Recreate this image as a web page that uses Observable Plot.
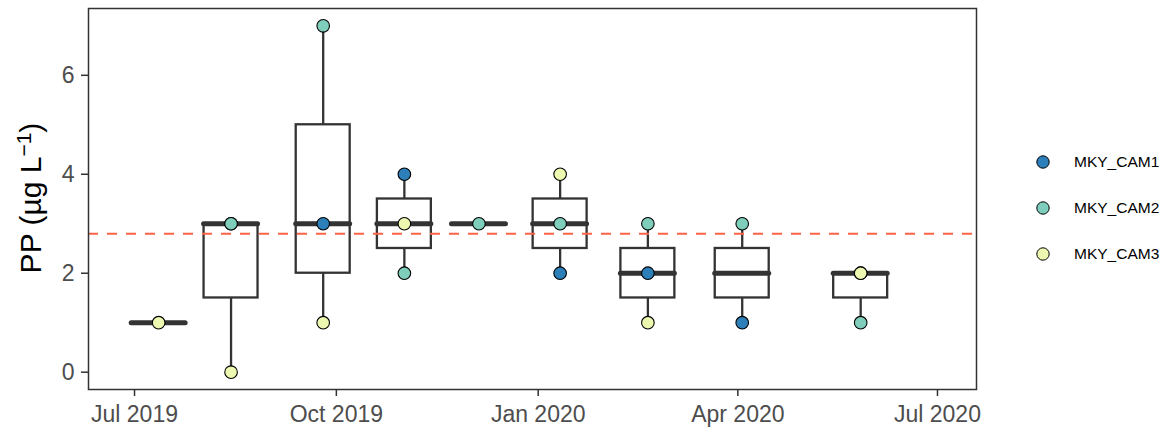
<!DOCTYPE html>
<html>
<head>
<meta charset="utf-8">
<script src="https://cdn.jsdelivr.net/npm/d3@7"></script>
<script src="https://cdn.jsdelivr.net/npm/@observablehq/plot@0.6"></script>
<style>
  body { margin: 0; background: #fff; font-family: "Liberation Sans", Arial, sans-serif; }
  #wrap { position: relative; width: 1175px; height: 430px; overflow: hidden; }
  #ylab {
    position: absolute; left: 31px; top: 198px; width: 320px;
    transform: translate(-50%, -50%) rotate(-90deg);
    text-align: center; font-size: 30px; line-height: 30px; color: #000; white-space: nowrap;
  }
  #ylab sup { font-size: 0.7em; vertical-align: 0.5em; line-height: 0; }
  .lg-row { position: absolute; left: 1036px; height: 20px; display: flex; align-items: center; }
  .lg-row span { margin-left: 24px; font-size: 15.5px; color: #000; }
</style>
</head>
<body>
<div id="wrap"></div>
<script>
// Sites and their fill colours (YlGnBu, 3 classes)
const sites = ["MKY_CAM1", "MKY_CAM2", "MKY_CAM3"];
const siteColors = ["#2C7FB8", "#7FCDBB", "#EDF8B1"];

// Sampling dates
const sampleDates = ["2019-07-12", "2019-08-14", "2019-09-25", "2019-11-01", "2019-12-05",
                     "2020-01-11", "2020-02-20", "2020-04-03", "2020-05-27"];

// PP (µg/L) per site on each sampling date; null = no sample
const cam1 = [null, 3, 3, 4, null, 2, 2, 1, 2];
const cam2 = [null, 3, 7, 2, 3, 3, 3, 3, 1];
const cam3 = [1, 0, 1, 3, null, 4, 1, null, 2];

// Reference level (dashed line)
const threshold = 2.8;

// Axis ticks
const xTicks = ["2019-07-01", "2019-10-01", "2020-01-01", "2020-04-01", "2020-07-01"];
const yTicks = [0, 2, 4, 6];

const DAY = 864e5;
const halfWidth = 12.3 * DAY;

// Long table of observations
const bySite = [cam1, cam2, cam3];
const obs = [];
sites.forEach((s, i) => {
  bySite[i].forEach((v, j) => {
    if (v !== null) obs.push({site: s, date: new Date(sampleDates[j]), value: v});
  });
});

// Box statistics per date (R type-7 quantiles, 1.5 IQR whiskers)
const stats = sampleDates.map((ds) => {
  const date = new Date(ds);
  const v = obs.filter(o => +o.date === +date).map(o => o.value).sort(d3.ascending);
  const q1 = d3.quantile(v, 0.25), med = d3.quantile(v, 0.5), q3 = d3.quantile(v, 0.75);
  const iqr = q3 - q1;
  const lo = d3.min(v.filter(x => x >= q1 - 1.5 * iqr));
  const hi = d3.max(v.filter(x => x <= q3 + 1.5 * iqr));
  return {date, x1: new Date(+date - halfWidth), x2: new Date(+date + halfWidth), q1, med, q3, lo, hi};
});

const ink = "#333333";

const chart = Plot.plot({
  width: 1175,
  height: 430,
  marginLeft: 88,
  marginRight: 199,
  marginTop: 8,
  marginBottom: 41,
  style: {fontFamily: "'Liberation Sans', Arial, sans-serif", fontSize: "23px", background: "#fff"},
  x: {type: "utc", domain: [new Date("2019-06-10T00:30Z"), new Date("2020-07-18T19:00Z")]},
  y: {domain: [-0.35, 7.35]},
  color: {domain: sites, range: siteColors},
  marks: [
    Plot.axisX(xTicks.map(d => new Date(d)), {
      tickSize: 7, tickPadding: 9, stroke: ink, strokeWidth: 1.5, fill: "#4D4D4D",
      tickFormat: d3.utcFormat("%b %Y"), label: null
    }),
    Plot.axisY(yTicks, {
      tickSize: 7, tickPadding: 7, stroke: ink, strokeWidth: 1.5, fill: "#4D4D4D", label: null
    }),
    // whiskers
    Plot.ruleX(stats, {x: "date", y1: "lo", y2: "q1", stroke: ink, strokeWidth: 2.3}),
    Plot.ruleX(stats, {x: "date", y1: "q3", y2: "hi", stroke: ink, strokeWidth: 2.3}),
    // boxes
    Plot.rect(stats, {x1: "x1", x2: "x2", y1: "q1", y2: "q3", fill: "white", stroke: ink, strokeWidth: 2.3}),
    // medians
    Plot.ruleY(stats, {y: "med", x1: "x1", x2: "x2", stroke: ink, strokeWidth: 5, strokeLinecap: "round"}),
    // reference level
    Plot.ruleY([threshold], {stroke: "#FF6347", strokeWidth: 2, strokeDasharray: "10,9"}),
    // observations
    Plot.dot(obs, {x: "date", y: "value", fill: "site", stroke: "#000", strokeWidth: 1.1, r: 6.3}),
    Plot.frame({stroke: ink, strokeWidth: 1.5})
  ]
});

const wrap = document.getElementById("wrap");
wrap.appendChild(chart);

// Y axis title
const ylab = document.createElement("div");
ylab.id = "ylab";
ylab.innerHTML = "PP (µg L<sup>−1</sup>)";
wrap.appendChild(ylab);

// Legend
const legendY = [161.7, 208.3, 254.3];
sites.forEach((s, i) => {
  const row = document.createElement("div");
  row.className = "lg-row";
  row.style.top = (legendY[i] - 10) + "px";
  row.innerHTML = `<svg width="14" height="14"><circle cx="7" cy="7" r="6.2" fill="${siteColors[i]}" stroke="#000" stroke-width="1"/></svg><span>${s}</span>`;
  wrap.appendChild(row);
});
</script>
</body>
</html>
